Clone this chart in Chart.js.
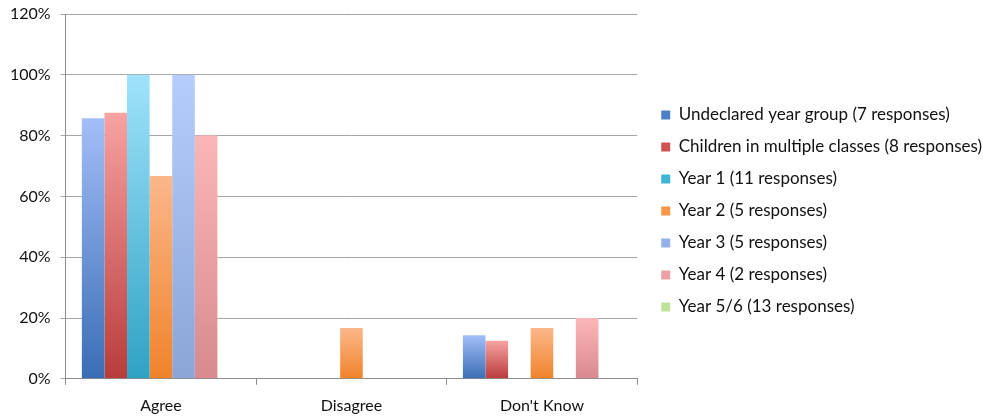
<!DOCTYPE html>
<html>
<head>
<meta charset="utf-8">
<script src="https://cdn.jsdelivr.net/npm/chart.js@4"></script>
<style>
  html, body { margin: 0; padding: 0; background: #fff; }
  #wrap { width: 983px; height: 419px; position: relative; }
</style>
</head>
<body>
<div id="wrap"><canvas id="chart"></canvas></div>
<script>
// Categories and series
const categories = ['Agree', 'Disagree', "Don't Know"];
const seriesNames = [
    'Undeclared year group (7 responses)',
    'Children in multiple classes (8 responses)',
    'Year 1 (11 responses)',
    'Year 2 (5 responses)',
    'Year 3 (5 responses)',
    'Year 4 (2 responses)',
    'Year 5/6 (13 responses)'
];
const undeclared = [85.7, 0, 14.3];
const multiple = [87.5, 0, 12.5];
const year1 = [100, 0, 0];
const year2 = [66.7, 16.7, 16.7];
const year3 = [100, 0, 0];
const year4 = [80, 0, 20];
const year56 = [0, 0, 0];
const yTicks = [0, 20, 40, 60, 80, 100, 120];

// bottom / top gradient colours, plus legend swatch
const palette = [
    { bottom: '#3a6db5', top: '#a3bef7', key: '#4f7ec8' },
    { bottom: '#b83c3c', top: '#f8a2a2', key: '#d05252' },
    { bottom: '#2fa2c4', top: '#a0e3fb', key: '#3fb5d6' },
    { bottom: '#f0832b', top: '#fbb78a', key: '#f79646' },
    { bottom: '#8aa5d6', top: '#b5cdfc', key: '#93b0ea' },
    { bottom: '#d88a8e', top: '#fcb6b8', key: '#eba1a4' },
    { bottom: '#a9d47a', top: '#d8f0bc', key: '#bfe29a' }
];

const allSeries = [undeclared, multiple, year1, year2, year3, year4, year56];

function barGradient(ctx, i) {
    const chart = ctx.chart;
    const y = chart.scales.y;
    if (ctx.type !== 'data' || !y || !chart.chartArea) return palette[i].key;
    const top = y.getPixelForValue(ctx.raw);
    const base = y.getPixelForValue(0);
    if (!isFinite(top) || top === base) return palette[i].key;
    const g = chart.ctx.createLinearGradient(0, base, 0, top);
    g.addColorStop(0, palette[i].bottom);
    g.addColorStop(1, palette[i].top);
    return g;
}

const datasets = allSeries.map((data, i) => ({
    label: seriesNames[i],
    data: data,
    backgroundColor: ctx => barGradient(ctx, i),
    borderWidth: 0,
    categoryPercentage: 0.83,
    barPercentage: 1.0
}));

// nudge the legend a bit further from the plot, like the original
const legendShift = {
    id: 'legendShift',
    afterLayout(chart) {
        if (chart.legend) {
            chart.legend.left += 9;
            chart.legend.right += 9;
            chart.legend.top -= 2;
            chart.legend.bottom -= 2;
        }
    }
};

const FONT = 'Lato, "Liberation Sans", sans-serif';

new Chart(document.getElementById('chart').getContext('2d'), {
    type: 'bar',
    data: { labels: categories, datasets: datasets },
    plugins: [legendShift],
    options: {
        responsive: true,
        maintainAspectRatio: false,
        animation: false,
        layout: { padding: { left: 0, right: 0, top: 0, bottom: -7 } },
        plugins: {
            tooltip: { enabled: false },
            legend: {
                position: 'right',
                maxWidth: 360,
                labels: {
                    color: '#111',
                    font: { family: FONT, size: 17 },
                    boxWidth: 9,
                    boxHeight: 9,
                    padding: 15,
                    generateLabels: chart => chart.data.datasets.map((ds, i) => ({
                        text: ds.label,
                        fillStyle: palette[i].key,
                        strokeStyle: palette[i].key,
                        lineWidth: 0,
                        fontColor: '#111',
                        datasetIndex: i
                    }))
                }
            }
        },
        scales: {
            x: {
                grid: {
                    display: true,
                    offset: true,
                    drawOnChartArea: false,
                    tickLength: 6,
                    color: '#8c8c8c'
                },
                border: { color: '#8c8c8c' },
                ticks: { color: '#111', font: { family: FONT, size: 16 }, padding: 11 }
            },
            y: {
                min: 0,
                max: 120,
                afterBuildTicks: axis => { axis.ticks = yTicks.map(v => ({ value: v })); },
                afterFit: axis => { axis.paddingTop = 14; },
                grid: { color: '#a6a6a6', tickLength: 5 },
                border: { color: '#8c8c8c' },
                ticks: {
                    color: '#111',
                    font: { family: FONT, size: 16 },
                    padding: 10,
                    callback: v => v + '%'
                }
            }
        }
    }
});
</script>
</body>
</html>
